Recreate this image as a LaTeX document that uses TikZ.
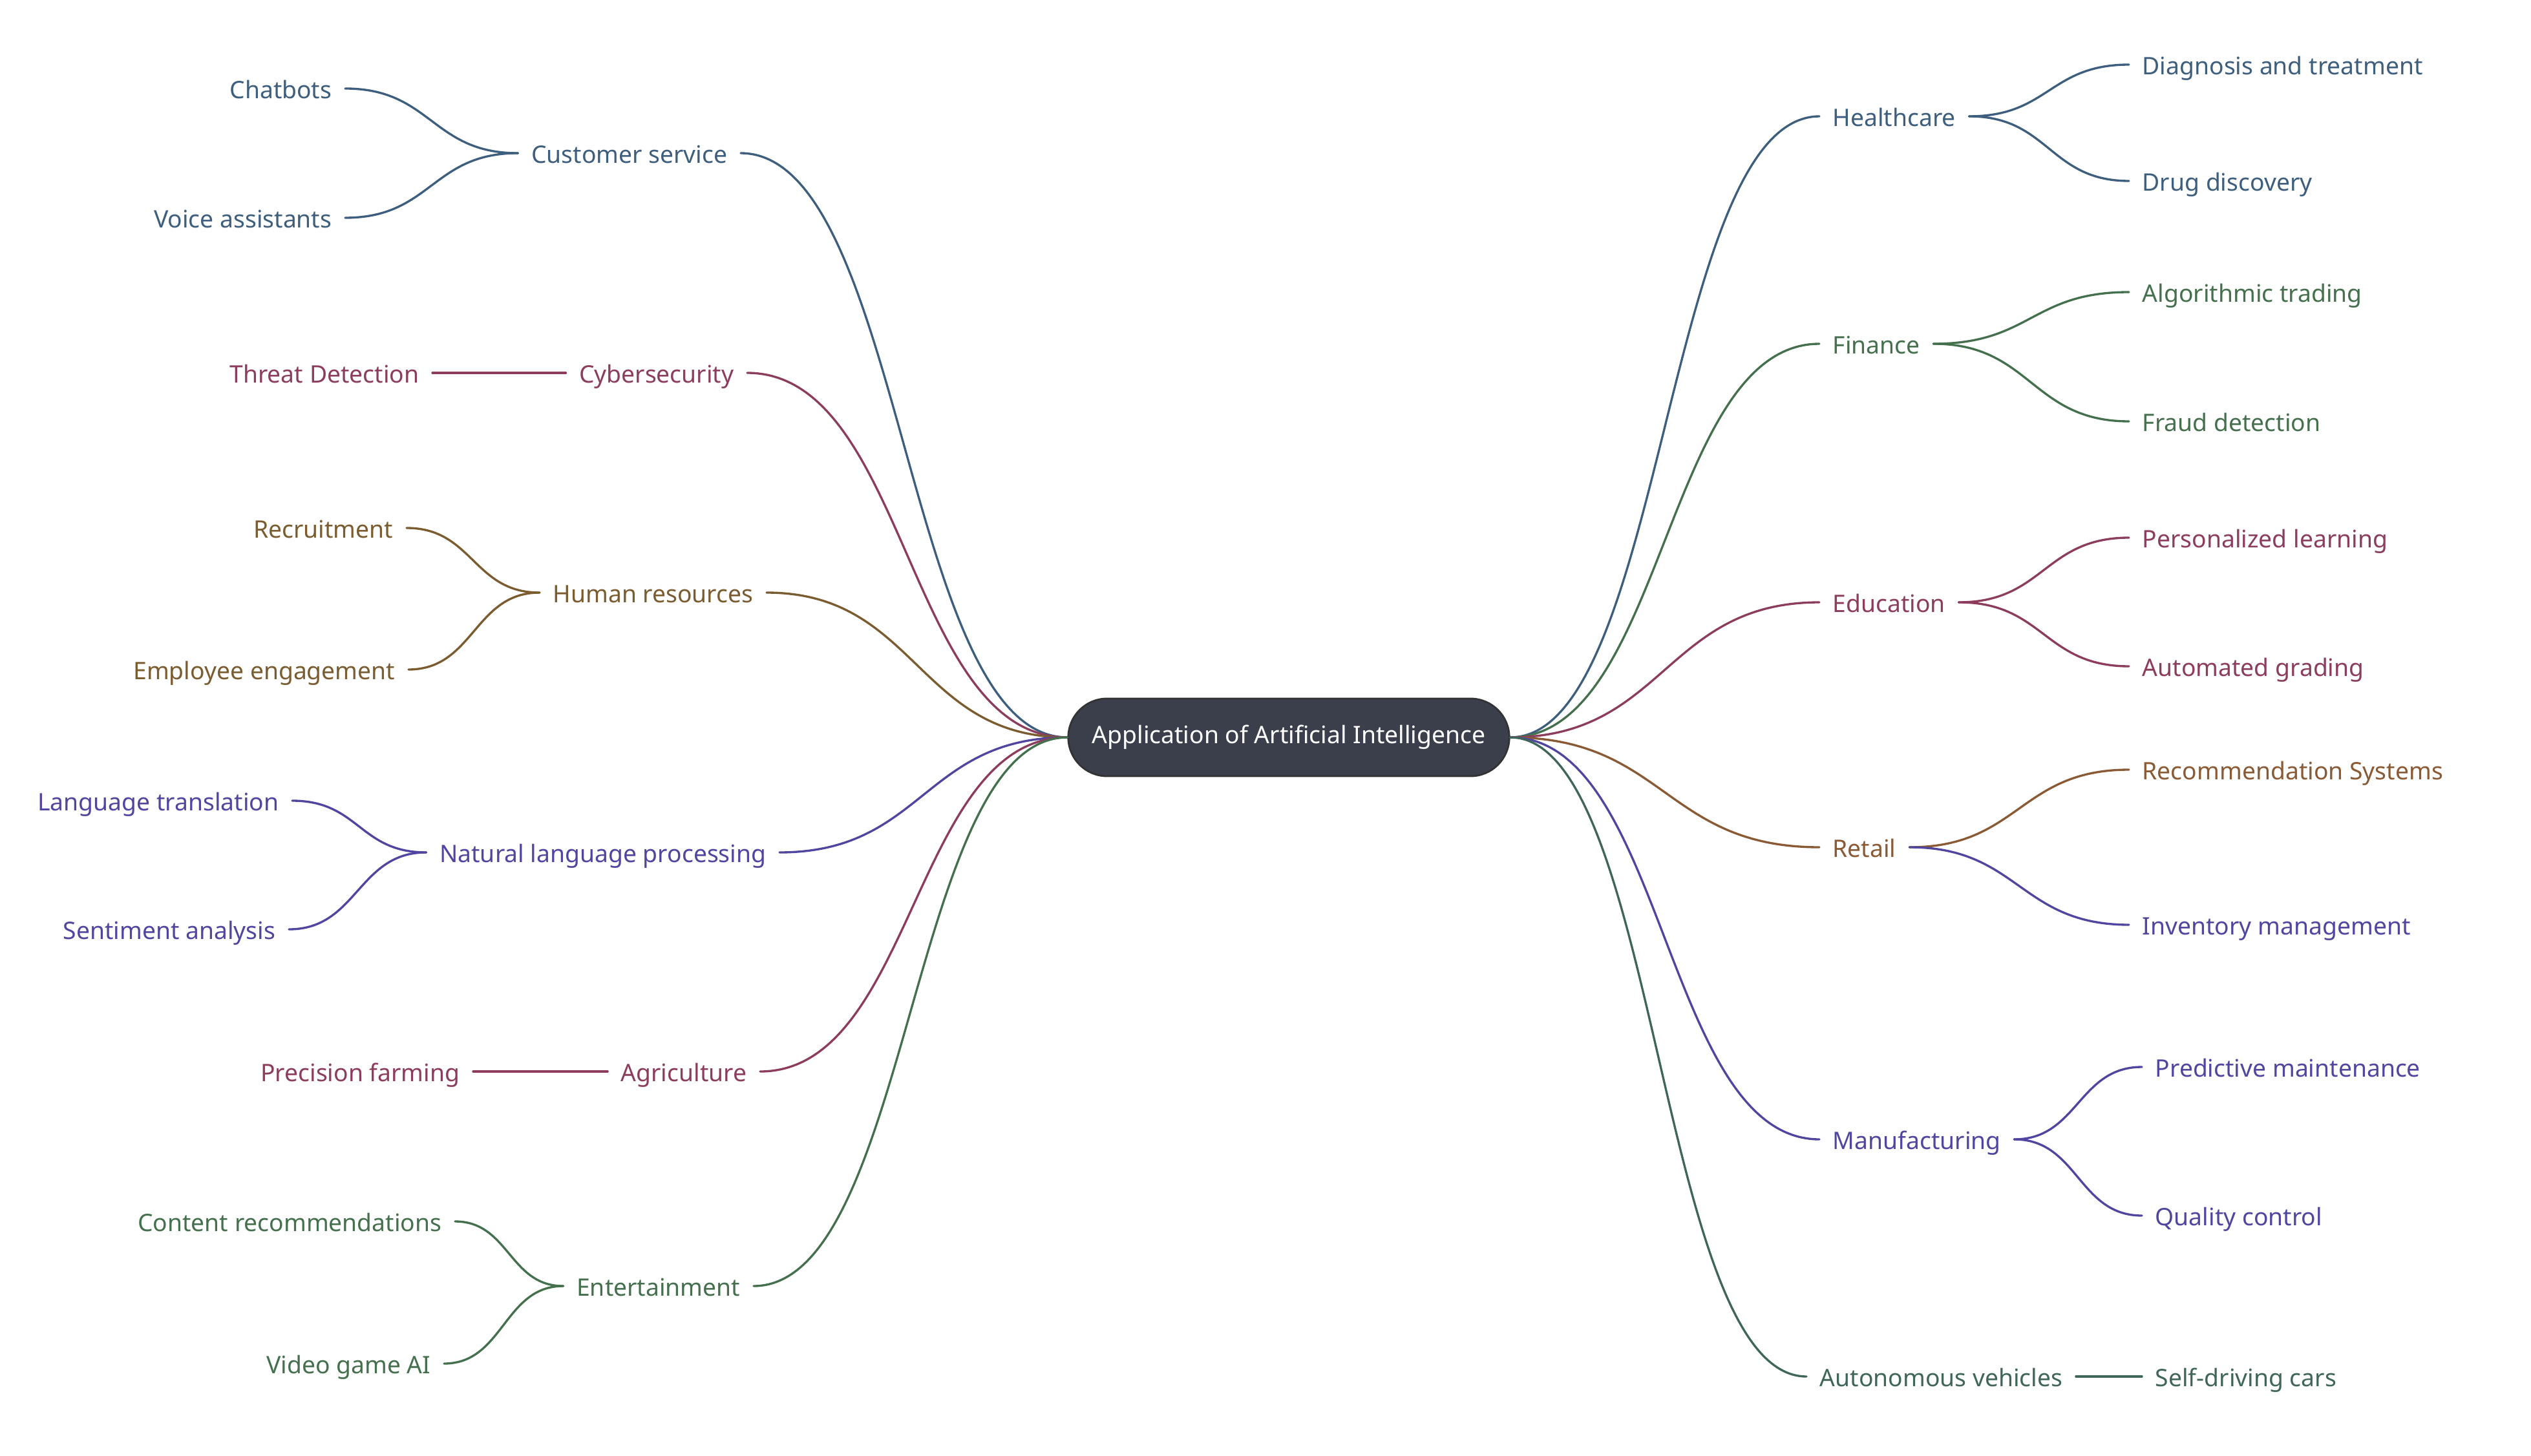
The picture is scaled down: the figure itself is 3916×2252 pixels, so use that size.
\documentclass[tikz,border=0pt]{standalone}
\usepackage{fontspec}
\setmainfont{Noto Sans}
\usepackage{xcolor}
\usetikzlibrary{positioning,calc}

\definecolor{aiblue}{HTML}{3E5E7E}
\definecolor{aired}{HTML}{8C3D5E}
\definecolor{aiochre}{HTML}{7A5C30}
\definecolor{aiviolet}{HTML}{5046A0}
\definecolor{aigreen}{HTML}{45704D}
\definecolor{aibrown}{HTML}{8A5A35}
\definecolor{aiteal}{HTML}{3F6659}
\definecolor{aidark}{HTML}{3A3F4B}

\begin{document}
\begin{tikzpicture}[
    x=0.01cm, y=-0.01cm,
    font=\fontsize{10.6pt}{12.7pt}\selectfont,
    root/.style={
        draw=black!80,
        fill=aidark,
        text=white,
        line width=0.8pt,
        rounded corners=0.6cm,
        minimum width=6.82cm,
        minimum height=1.2cm
    },
    topic/.style={
        inner xsep=0.2cm,
        inner ysep=0pt,
        text height=8.6pt,
        text depth=0pt
    },
    lt/.style={topic, anchor=east},
    rt/.style={topic, anchor=west},
    link/.style={
        line width=0.95pt,
        line cap=round,
        to path={let \p1=(\tikztostart), \p2=(\tikztotarget) in
            .. controls ({(\x1+\x2)/2},\y1) and ({(\x1+\x2)/2},\y2) .. (\tikztotarget)}
    }
]
\useasboundingbox (0,0) rectangle (3916,2252);

% centre
\node[root] (ai) at (1994,1141) {Application of Artificial Intelligence};

% left side, first level
\node[lt, text=aiblue] (cust) at (1146,237) {Customer service};
\node[lt, text=aired] (cyber) at (1156,577) {Cybersecurity};
\node[lt, text=aiochre] (hr) at (1186,917) {Human resources};
\node[lt, text=aiviolet] (nlp) at (1206,1319) {Natural language processing};
\node[lt, text=aired] (agri) at (1176,1658) {Agriculture};
\node[lt, text=aigreen] (ent) at (1166,1990) {Entertainment};

% left side, second level
\node[lt, text=aiblue] (chat) at (534,137) {Chatbots};
\node[lt, text=aiblue] (voice) at (534,337) {Voice assistants};
\node[lt, text=aired] (threat) at (669,577) {Threat Detection};
\node[lt, text=aiochre] (recruit) at (629,817) {Recruitment};
\node[lt, text=aiochre] (engage) at (632,1036) {Employee engagement};
\node[lt, text=aiviolet] (transl) at (452,1239) {Language translation};
\node[lt, text=aiviolet] (senti) at (447,1438) {Sentiment analysis};
\node[lt, text=aired] (farm) at (732,1658) {Precision farming};
\node[lt, text=aigreen] (recom) at (704,1890) {Content recommendations};
\node[lt, text=aigreen] (game) at (687,2110) {Video game AI};

% right side, first level
\node[rt, text=aiblue] (health) at (2815,180) {Healthcare};
\node[rt, text=aigreen] (fin) at (2815,532) {Finance};
\node[rt, text=aired] (edu) at (2815,932) {Education};
\node[rt, text=aibrown] (retail) at (2815,1311) {Retail};
\node[rt, text=aiviolet] (manuf) at (2815,1763) {Manufacturing};
\node[rt, text=aiteal] (auto) at (2795,2130) {Autonomous vehicles};

% right side, second level
\node[rt, text=aiblue] (diag) at (3294,100) {Diagnosis and treatment};
\node[rt, text=aiblue] (drug) at (3294,280) {Drug discovery};
\node[rt, text=aigreen] (trade) at (3294,452) {Algorithmic trading};
\node[rt, text=aigreen] (fraud) at (3294,652) {Fraud detection};
\node[rt, text=aired] (learn) at (3294,832) {Personalized learning};
\node[rt, text=aired] (grade) at (3294,1031) {Automated grading};
\node[rt, text=aibrown] (recsys) at (3294,1191) {Recommendation Systems};
\node[rt, text=aiviolet] (inv) at (3294,1431) {Inventory management};
\node[rt, text=aiviolet] (maint) at (3314,1651) {Predictive maintenance};
\node[rt, text=aiviolet] (qual) at (3314,1881) {Quality control};
\node[rt, text=aiteal] (selfdrive) at (3314,2130) {Self-driving cars};

% links, left
\draw[link, aiblue] (ai.west) to (cust.east);
\draw[link, aired] (ai.west) to (cyber.east);
\draw[link, aiochre] (ai.west) to (hr.east);
\draw[link, aiviolet] (ai.west) to (nlp.east);
\draw[link, aired] (ai.west) to (agri.east);
\draw[link, aigreen] (ai.west) to (ent.east);

\draw[link, aiblue] (cust.west) to (chat.east);
\draw[link, aiblue] (cust.west) to (voice.east);
\draw[link, aired] (cyber.west) to (threat.east);
\draw[link, aiochre] (hr.west) to (recruit.east);
\draw[link, aiochre] (hr.west) to (engage.east);
\draw[link, aiviolet] (nlp.west) to (transl.east);
\draw[link, aiviolet] (nlp.west) to (senti.east);
\draw[link, aired] (agri.west) to (farm.east);
\draw[link, aigreen] (ent.west) to (recom.east);
\draw[link, aigreen] (ent.west) to (game.east);

% links, right
\draw[link, aiblue] (ai.east) to (health.west);
\draw[link, aigreen] (ai.east) to (fin.west);
\draw[link, aired] (ai.east) to (edu.west);
\draw[link, aibrown] (ai.east) to (retail.west);
\draw[link, aiviolet] (ai.east) to (manuf.west);
\draw[link, aiteal] (ai.east) to (auto.west);

\draw[link, aiblue] (health.east) to (diag.west);
\draw[link, aiblue] (health.east) to (drug.west);
\draw[link, aigreen] (fin.east) to (trade.west);
\draw[link, aigreen] (fin.east) to (fraud.west);
\draw[link, aired] (edu.east) to (learn.west);
\draw[link, aired] (edu.east) to (grade.west);
\draw[link, aibrown] (retail.east) to (recsys.west);
\draw[link, aiviolet] (retail.east) to (inv.west);
\draw[link, aiviolet] (manuf.east) to (maint.west);
\draw[link, aiviolet] (manuf.east) to (qual.west);
\draw[link, aiteal] (auto.east) to (selfdrive.west);

\end{tikzpicture}
\end{document}
